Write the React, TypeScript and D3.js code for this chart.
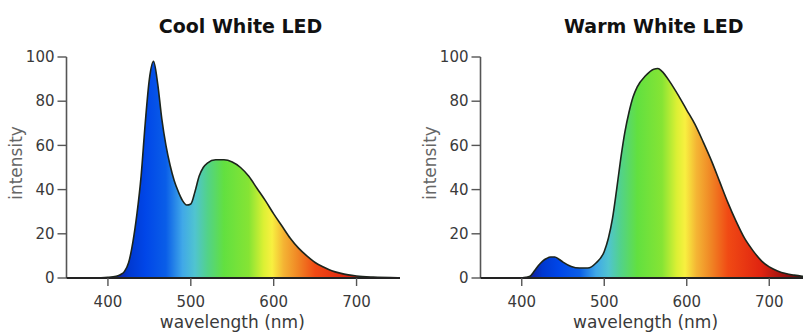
import React from 'react';
import * as d3 from 'd3';

// wavelength (nm) sample points for each spectrum
const coolWavelengths = [380, 400, 410, 415, 420, 425, 430, 435, 440, 445, 450, 455, 460, 465, 470, 475, 480, 485, 490, 495, 500, 505, 510, 515, 520, 530, 540, 550, 560, 570, 580, 590, 600, 610, 620, 630, 640, 650, 660, 670, 680, 690, 700, 720, 750];
const coolIntensity = [0, 0.3, 0.8, 1.5, 3, 7, 16, 29, 46, 70, 90, 98, 88, 72, 60, 51, 44, 39, 35, 33, 33.5, 39, 46, 50, 52, 53.5, 53.5, 52.5, 50, 46, 40.5, 35, 29, 23.5, 18, 13.5, 10, 7, 5, 3.3, 2.2, 1.4, 0.9, 0.4, 0.1];

const warmWavelengths = [395, 405, 410, 415, 420, 425, 430, 435, 440, 445, 450, 460, 470, 480, 490, 500, 505, 510, 515, 520, 525, 530, 535, 540, 550, 560, 565, 570, 580, 590, 600, 610, 620, 630, 640, 650, 660, 670, 680, 690, 700, 710, 720, 730, 740, 750];
const warmIntensity = [0, 0.3, 0.8, 3, 5.5, 7.5, 8.8, 9.5, 9.5, 8.5, 7.2, 5.2, 4.5, 4.5, 6.8, 12, 18, 27, 40, 54, 66, 75, 82, 86.5, 91.5, 94.5, 94.8, 93.5, 88.5, 82.5, 76, 69.5, 61.5, 53, 43.5, 34, 25.5, 18, 12.5, 8, 5, 3.2, 2, 1.3, 0.8, 0.5];

const xTicks = [400, 500, 600, 700];
const yTicks = [0, 20, 40, 60, 80, 100];

// visible spectrum colour stops
const spectrumNm = [350, 400, 412, 425, 445, 470, 490, 505, 520, 540, 570, 588, 598, 612, 630, 650, 690, 720, 750];
const spectrumColor = ['#000010', '#0a0a40', '#1020a0', '#0038d0', '#0046e8', '#0a5ee8', '#40a8e8', '#50c4d0', '#52d28a', '#62e040', '#86e434', '#dcf034', '#f8f040', '#f4b434', '#f08424', '#f04a14', '#e02410', '#981010', '#300606'];

const FONT = '"DejaVu Sans", sans-serif';

type PanelProps = {
  id: string;
  title: string;
  wl: number[];
  vals: number[];
  left: number;
  right: number;
};

const Panel = ({ id, title, wl, vals, left, right }: PanelProps) => {
  const x = d3.scaleLinear().domain([350, 750]).range([left, right]);
  const y = d3.scaleLinear().domain([0, 100]).range([278, 57]);
  const pts = wl.map((w, i) => [w, vals[i]] as [number, number]);

  const area = d3.area<[number, number]>()
    .x(d => x(d[0]))
    .y0(y(0))
    .y1(d => y(d[1]))
    .curve(d3.curveMonotoneX);
  const line = d3.line<[number, number]>()
    .x(d => x(d[0]))
    .y(d => y(d[1]))
    .curve(d3.curveMonotoneX);

  const axisColor = '#555';
  const textColor = '#3a3a3a';

  return (
    <g>
      <defs>
        <linearGradient id={id} gradientUnits="userSpaceOnUse" x1={x(350)} x2={x(750)} y1={0} y2={0}>
          {spectrumNm.map((w, i) => (
            <stop key={w} offset={(w - 350) / 400} stopColor={spectrumColor[i]} />
          ))}
        </linearGradient>
      </defs>

      <text x={x(560)} y={33} textAnchor="middle" fontFamily={FONT} fontWeight="bold" fontSize={19} fill="#111">
        {title}
      </text>

      <path d={area(pts) || ''} fill={`url(#${id})`} />
      <path d={line(pts) || ''} fill="none" stroke="#1c241c" strokeWidth={1.6} />

      {/* y axis */}
      <line x1={left} x2={left} y1={y(100)} y2={y(0)} stroke={axisColor} strokeWidth={1.6} />
      {yTicks.map(t => (
        <g key={t}>
          <line x1={left - 9} x2={left} y1={y(t)} y2={y(t)} stroke={axisColor} strokeWidth={1.4} />
          <text x={left - 12} y={y(t)} dy="0.35em" textAnchor="end" fontFamily={FONT} fontSize={15} fill={textColor}>{t}</text>
        </g>
      ))}

      {/* x axis */}
      <line x1={left} x2={x(750) + 2} y1={y(0)} y2={y(0)} stroke="#222" strokeWidth={1.8} />
      {xTicks.map(t => (
        <g key={t}>
          <line x1={x(t)} x2={x(t)} y1={y(0)} y2={y(0) + 8} stroke={axisColor} strokeWidth={1.4} />
          <text x={x(t)} y={307} textAnchor="middle" fontFamily={FONT} fontSize={15} fill={textColor}>{t}</text>
        </g>
      ))}

      <text x={x(550)} y={328} textAnchor="middle" fontFamily={FONT} fontSize={17} fill={textColor}>wavelength (nm)</text>
      <text transform={`translate(${left - 50},${163}) rotate(-90)`} textAnchor="middle" dy="0.35em" fontFamily={FONT} fontSize={17} fill="#666">intensity</text>
    </g>
  );
};

export default function App() {
  return (
    <div style={{ position: 'fixed', left: 0, top: 0, background: '#fff' }}>
      <svg width={803} height={336} style={{ display: 'block' }}>
        <rect width={803} height={336} fill="#fff" />
        <Panel id="coolGrad" title="Cool White LED" wl={coolWavelengths} vals={coolIntensity} left={66.5} right={398} />
        <Panel id="warmGrad" title="Warm White LED" wl={warmWavelengths} vals={warmIntensity} left={480.5} right={810.5} />
      </svg>
    </div>
  );
}
